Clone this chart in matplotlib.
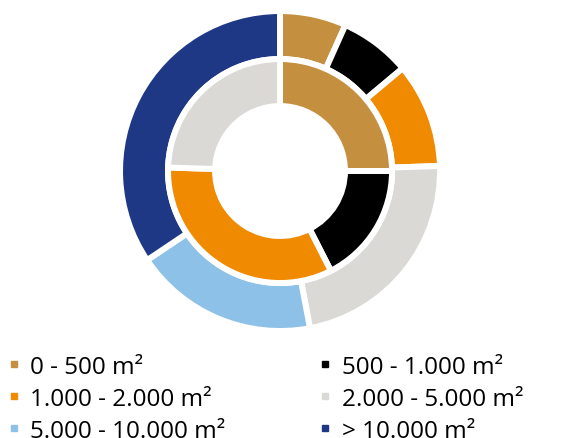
import matplotlib.pyplot as plt
from matplotlib.lines import Line2D

plt.rcParams['font.family'] = ['Open Sans', 'DejaVu Sans']

# categories and colours
labels = ['0 - 500 m²', '500 - 1.000 m²', '1.000 - 2.000 m²',
          '2.000 - 5.000 m²', '5.000 - 10.000 m²', '> 10.000 m²']
colors = ['#C4903F', '#000000', '#F08A00', '#DAD9D5', '#8EC1E8', '#1F3885']

# outer ring (all six classes), share in %
outer_values = [6.7, 7.2, 10.6, 22.5, 18.6, 34.4]
# inner ring (first four classes), share in %
inner_values = [25.0, 17.5, 33.0, 24.5]

fig = plt.figure(figsize=(5.68, 4.39), dpi=100)
ax = fig.add_axes([0.2113, 0.2437, 0.5634, 0.7289])

edge = dict(edgecolor='white', linewidth=4.3)
ax.pie(outer_values, colors=colors, radius=1.0, startangle=90, counterclock=False,
       wedgeprops=dict(width=0.3, **edge))
ax.pie(inner_values, colors=colors[:4], radius=0.7, startangle=90, counterclock=False,
       wedgeprops=dict(width=0.294, **edge))
ax.set_xlim(-1, 1)
ax.set_ylim(-1, 1)
ax.set_aspect('equal')
ax.axis('off')

handles = [Line2D([], [], linestyle='none', marker='s', markersize=5,
                  markerfacecolor=c, markeredgecolor=c) for c in colors]
order = [0, 2, 4, 1, 3, 5]
fig.legend([handles[i] for i in order], [labels[i] for i in order],
           ncol=2, loc='upper left', bbox_to_anchor=(0.012, 0.19),
           frameon=False, fontsize=17.5, handlelength=0.55, handletextpad=0.4,
           columnspacing=3.85, labelspacing=0.33, borderpad=0, borderaxespad=0)

fig.savefig('out.png', dpi=100)
